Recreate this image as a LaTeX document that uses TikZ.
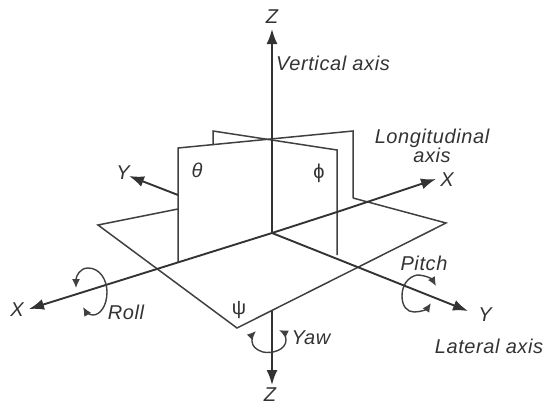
\documentclass[tikz,border=0pt]{standalone}
\usepackage{fontspec}
\setmainfont{Liberation Sans}[LetterSpace=3]
\usepackage{tikz}
\usetikzlibrary{arrows.meta}

\begin{document}
\begin{tikzpicture}[
    x=1pt, y=-1pt,
    font=\fontsize{20}{18}\selectfont\itshape,
    plane/.style={draw=black!75, line width=1.5pt, line join=miter},
    axis/.style={draw=black!80, line width=1.9pt},
    axisarr/.style={axis, -{Latex[length=15pt,width=11pt]}},
    turn/.style={draw=black!75, line width=1.4pt, -{Latex[length=9pt,width=8pt]}},
    lab/.style={text=black!80, inner sep=0pt, align=center}
  ]
    \useasboundingbox (0,0) rectangle (548,407);
    % floor corners
    \coordinate (FL) at (98,225);
    \coordinate (FB) at (237,328);
    \coordinate (FR) at (446,223);
    \coordinate (O)  at (272,233);
    \coordinate (C)  at (272,139);
    % theta plane
    \coordinate (TL) at (178,148);
    \coordinate (TLb) at (178,262);
    \coordinate (TLf) at (178,209);
    \coordinate (TR) at (353,131);
    \coordinate (TRb) at (353,198);
    % phi plane
    \coordinate (PL) at (213,131);
    \coordinate (PLb) at (213,145);
    \coordinate (PR) at (337,150);
    \coordinate (PRb) at (337,255);
    % axis ends
    \coordinate (Zt) at (272,29);
    \coordinate (Zb) at (272,385);
    \coordinate (Zf) at (272,311);
    \coordinate (Xl) at (29,309);
    \coordinate (Xr) at (436,179);
    \coordinate (Xm) at (337,212);
    \coordinate (Yl) at (129,176);
    \coordinate (Ym) at (178,195);
    \coordinate (Yr) at (468,311);

    \draw[plane] (TLf) -- (FL) -- (FB) -- (FR) -- (TRb);
    \draw[plane] (TLb) -- (TL) -- (TR) -- (TRb);
    \draw[plane] (PLb) -- (PL) -- (PR) -- (PRb);

    \draw[axisarr] (O) -- (Zt);
    \draw[axisarr] (Zf) -- (Zb);
    \draw[axisarr] (O) -- (Xl);
    \draw[axisarr] (Xm) -- (Xr);
    \draw[axisarr] (O) -- (Yr);
    \draw[axisarr] (Ym) -- (Yl);
    \draw[axis] (O) -- (Xm);

    % rotation arrows
    \draw[turn] (88,268) .. controls (80,268) and (76,276) .. (76,288);
    \draw[turn] (88,268) .. controls (100,268) and (107,280) .. (107,292)
      .. controls (107,306) and (100,315) .. (93,315)
      .. controls (90,315) and (86,312) .. (83,307);
    \draw[turn] (417,275) .. controls (425,275) and (432,279) .. (436,286);
    \draw[turn] (417,275) .. controls (408,277) and (402,285) .. (402,296)
      .. controls (402,306) and (407,312) .. (414,312)
      .. controls (421,312) and (427,309) .. (431,303);
    \draw[turn] (263,352) .. controls (256,350) and (252,346) .. (252,341)
      .. controls (252,337) and (253,334) .. (256,331);
    \draw[turn] (263,352) .. controls (272,354) and (286,350) .. (286,340)
      .. controls (286,336) and (283,332) .. (279,330);

    \node[lab] (LZt) at (272,17)  {Z};
    \node[lab] (LZb) at (270,395) {Z};
    \node[lab] (LXl) at (17,310)  {X};
    \node[lab] (LXr) at (447,180) {X};
    \node[lab] (LYl) at (123,173) {Y};
    \node[lab] (LYr) at (485,315) {Y};
    \node[lab] (LV)  at (333,63)  {Vertical axis};
    \node[lab] (LL)  at (432,146) {Longitudinal\\axis};
    \node[lab] (LA)  at (489,346) {Lateral axis};
    \node[lab] (LP)  at (424,263) {Pitch};
    \node[lab] (LR)  at (126,312) {Roll};
    \node[lab] (LW)  at (311,338) {Yaw};
    \node[lab] (Lth) at (197,170) {θ};
    \node[lab] (Lph) at (319,173) {\upshape ϕ};
    \node[lab] (Lps) at (239,310) {\upshape ψ};
  \end{tikzpicture}
\end{document}
